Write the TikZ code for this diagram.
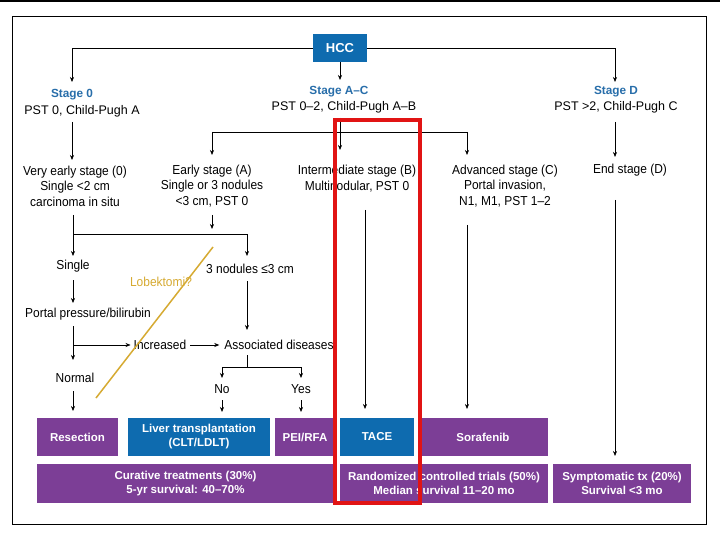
\documentclass[tikz,border=0pt]{standalone}
\usepackage{fontspec}
\setmainfont{Liberation Sans}
\newfontfamily\condfont[FakeStretch=0.92,Ligatures=TeX]{Liberation Sans}
\usetikzlibrary{arrows.meta}
\definecolor{hccblue}{RGB}{14,107,175}
\definecolor{hccpurple}{RGB}{124,62,150}
\definecolor{stageblue}{RGB}{40,110,170}
\definecolor{goldline}{RGB}{214,170,50}
\definecolor{redframe}{RGB}{225,20,20}
\begin{document}
\begin{tikzpicture}[x=1pt,y=-1pt,
  txt/.style={font=\condfont\fontsize{13}{15.5}\selectfont, align=center, inner sep=0pt},
  pst/.style={font=\fontsize{12.5}{15}\selectfont, align=center, inner sep=0pt},
  stagehead/.style={font=\bfseries\fontsize{11.8}{14}\selectfont, text=stageblue, inner sep=0pt},
  pbox/.style={fill=hccpurple, text=white, font=\bfseries\fontsize{11.5}{14}\selectfont, align=center, inner sep=0pt, minimum height=38pt},
  bbox/.style={pbox, fill=hccblue},
  arr/.style={-{Stealth[length=5pt,width=4pt]}, line width=0.6pt},
  ln/.style={line width=0.6pt}]
\useasboundingbox (0,0) rectangle (720,540);
\fill[white] (0,0) rectangle (720,540);
\draw[line width=2pt] (0,1) -- (720,1);
\draw[line width=0.8pt] (12,16) rectangle (706,524);

% top
\node[bbox, minimum width=54pt, minimum height=28pt, font=\bfseries\fontsize{13}{15}\selectfont] (hcc) at (340,48) {HCC};
\node[stagehead] (st0) at (72,95) {Stage 0};
\node[pst] (pst0) at (82,111) {PST 0, Child-Pugh A};
\node[stagehead] (stac) at (339,92) {Stage A--C};
\node[pst] (pstac) at (344,107) {PST 0--2, Child-Pugh A--B};
\node[stagehead] (std) at (616,92) {Stage D};
\node[pst] (pstd) at (616,107) {PST >2, Child-Pugh C};

\coordinate (a0) at (72,82);
\coordinate (ad) at (615,82);
\coordinate (aac) at (340,80);
\draw[arr] (hcc.west) -| (a0);
\draw[arr] (hcc.east) -| (ad);
\draw[arr] (hcc.south) -- (aac);

% stage level
\node[txt] (vearly) at (75,186) {Very early stage (0)\\Single <2 cm\\carcinoma in situ};
\node[txt] (early) at (212,186) {Early stage (A)\\Single or 3 nodules\\<3 cm, PST 0};
\node[txt] (inter) at (357,178.5) {Intermediate stage (B)\\Multinodular, PST 0};
\node[txt] (adv) at (505,186) {Advanced stage (C)\\Portal invasion,\\N1, M1, PST 1--2};
\node[txt] (endst) at (630,170) {End stage (D)};

\draw[arr] (72,122) -- (72,160);
\draw[arr] (340,118) -- (340,150);
\draw[ln] (212,132) -- (467,132);
\draw[arr] (212,132) -- (212,155);
\draw[arr] (467,132) -- (467,155);
\draw[arr] (615,122) -- (615,157);

% stage 0/A sub-tree
\coordinate (j1) at (73,234);
\coordinate (j2) at (247,234);
\draw[ln] (73,215) -- (j1) -- (j2);
\draw[arr] (212,215) -- (212,229);

\node[txt] (single) at (73,266) {Single};
\node[txt] (three) at (250,269) {3 nodules ≤3 cm};
\draw[arr] (j1) -- (73,256);
\draw[arr] (j2) -- (247,256);

\node[txt] (portal) at (88,314) {Portal pressure/bilirubin};
\draw[arr] (73,280) -- (73,303);

\node[txt] (incr) at (160,345) {Increased};
\node[txt] (assoc) at (279,345) {Associated diseases};
\node[txt] (normal) at (75,378) {Normal};
\draw[arr] (73,326) -- (73,360);
\draw[arr] (73,345) -- ([xshift=-3pt]incr.west);
\draw[arr] ([xshift=4pt]incr.east) -- ([xshift=-5pt]assoc.west);
\draw[arr] (247,281) -- (247,330);

\node[txt] (no) at (222,389) {No};
\node[txt] (yes) at (301,389) {Yes};
\draw[ln] (247,355) -- (247,367);
\draw[ln] (222,367) -- (301,367);
\draw[arr] (222,367) -- (222,378);
\draw[arr] (301,367) -- (301,378);

\draw[arr] (73,391) -- (73,411);
\draw[arr] (222,400) -- (222,412);
\draw[arr] (301,400) -- (301,412);

\draw[arr] (365,210) -- (365,409);
\draw[arr] (467,225) -- (467,409);
\draw[arr] (615,200) -- (615,456);

% treatment boxes
\node[pbox, minimum width=81pt] (resect) at (77.5,437) {Resection};
\node[bbox, minimum width=142pt] (lt) at (199,437) {Liver transplantation\\(CLT/LDLT)};
\node[pbox, minimum width=60pt] (pei) at (305,437) {PEI/RFA};
\node[bbox, minimum width=74pt] (tace) at (377,437) {TACE};
\node[pbox, minimum width=130pt] (sora) at (483,437) {Sorafenib};

\node[pbox, minimum width=297pt, minimum height=39pt] (cur) at (185.5,483.5) {Curative treatments (30\%)\\5-yr survival: 40--70\%};
\node[pbox, minimum width=208pt, minimum height=39pt] (rct) at (444,483.5) {Randomized controlled trials (50\%)\\Median survival 11--20 mo};
\node[pbox, minimum width=138pt, minimum height=39pt] (sym) at (622,483.5) {Symptomatic tx (20\%)\\Survival <3 mo};

% annotation
\draw[goldline, line width=1.5pt] (96,398) -- (213,247);
\node[txt, text=goldline] (lob) at (161,282) {Lobektomi?};

% highlight
\draw[redframe, line width=4pt] (335,120) rectangle (420,503);
\end{tikzpicture}
\end{document}
